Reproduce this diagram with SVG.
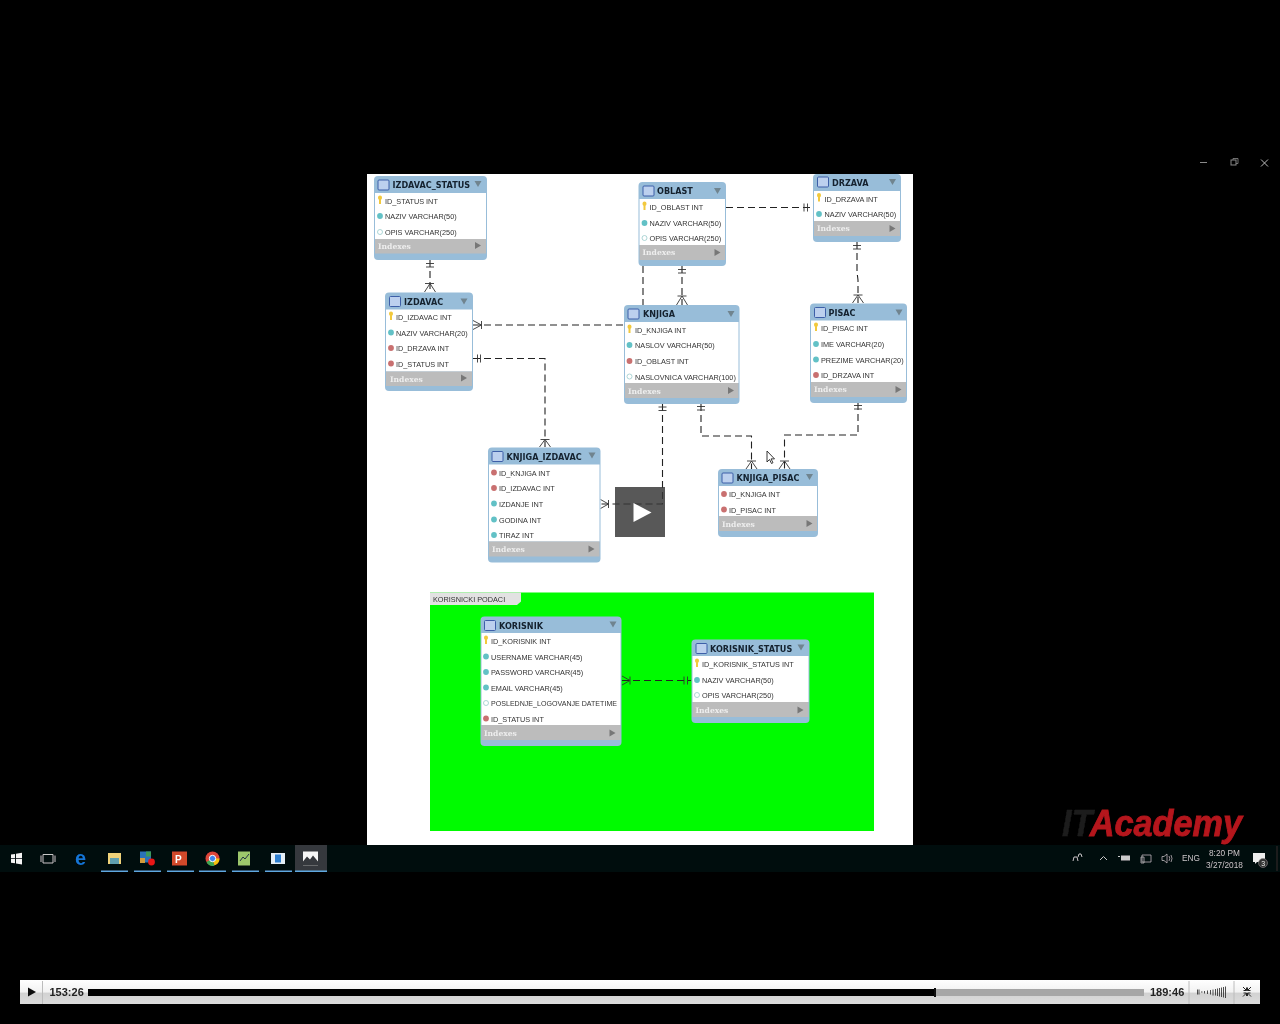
<svg xmlns="http://www.w3.org/2000/svg" width="1280" height="1024" viewBox="0 0 1280 1024">
<style>
text{font-family:"Liberation Sans",Arial,sans-serif}
.hd{fill:#98bdd9}
.bd{fill:#fff}
.ix{fill:#bcbcbc}
.t{font-family:"DejaVu Sans",sans-serif;font-weight:700;font-size:8.1px;fill:#12202e}
.r{font-size:7.300px;fill:#333}
.i{font-family:"DejaVu Serif",serif;font-weight:700;font-size:7.600px;fill:#eee}
.d{fill:none;stroke:#222;stroke-width:1.1;stroke-dasharray:7 4}
.g{fill:none;stroke:#333;stroke-width:.9}
.tr{fill:#c8c8c8;font-size:8.300px}
.ul{fill:#5fa8e0}
.tm{font-weight:700;font-size:11px;fill:#222}
</style>
<defs>
<linearGradient id="bar" x1="0" y1="0" x2="0" y2="1"><stop offset="0" stop-color="#fff"/><stop offset=".5" stop-color="#f2f2f2"/><stop offset=".55" stop-color="#d2d2d2"/><stop offset="1" stop-color="#dcdcdc"/></linearGradient>
<filter id="soft" x="0" y="0" width="1" height="1"><feGaussianBlur stdDeviation=".35"/></filter>
<g id="tbl"><rect x="0" y="0" width="11" height="10" rx="1" fill="#bcd0ee" stroke="#3c5fa8" stroke-width="1"/></g>
<path id="dn" d="M0 0h7l-3.500 6z" fill="#70848f"/>
<path id="rt" d="M0 0l6 3.500-6 3.500z" fill="#777"/>
<path id="key" d="M-2-3.500a2 2 0 0 1 4 0q0 1.700-1 2.300v4.200h-2v-4.200q-1-.6-1-2.300z" fill="#f2c93c"/>
<circle id="teal" r="2.900" fill="#62c1c6"/>
<circle id="red" r="2.900" fill="#c9706f"/>
<circle id="hol" r="2.500" fill="#fff" stroke="#9cc" stroke-width=".8"/>
</defs>
<rect id="screen" width="1280" height="1024" fill="#000"/>
<g filter="url(#soft)">
<rect id="page" x="367" y="174" width="546" height="671" fill="#fff"/>
<g id="layer-korisnicki-podaci">
<rect x="430" y="592.500" width="444" height="238.500" fill="#00fb00"/>
<path d="M430 592.500h91v9l-4 3.500h-87z" fill="#e2e2e2"/>
<text class="r" x="433" y="601.500">KORISNICKI PODACI</text>
</g>
<g id="connectors">
<path class="d" d="M430 260V292M473 325H624M473 358.500H545V447M682 266V305M643 266V305M726 207.500H813M857 242V272L858 280V303M701 404V436H751.500V469M858 403V435H784.500V469M662.500 404V504H600M622 680.500H691"/>
<path class="g" d="M426 263.500h8M426 267h8M425 283.500h9M430 283.500L424.500 292M430 283.500L435.500 292
M481.500 321v8M481.500 325L473 320.500M481.500 325L473 329.500
M477.500 354.500v8M480.500 354.500v8
M540.500 439.500h9M545 439.500L539.500 447M545 439.500L550.500 447
M678 269.500h8M678 273h8M677.500 296h9M682 296L676.500 305M682 296L687.500 305
M804 203.500v8M807.500 203.500v8
M853 245.500h8M853 249h8M853.500 295h9M858 295L852.500 303M858 295L863.500 303
M697 406.500h8M697 410h8M747 461h9M751.500 461L746 469M751.500 461L757 469
M854 405.500h8M854 409h8M780 461h9M784.500 461L779 469M784.500 461L790 469
M658.500 407h8M658.500 410.500h8M608.500 500v8M608.500 504L600.500 499.500M608.500 504L600.500 508.500
M630 676.500v8M630 680.500L622 676M630 680.500L622 685M684 676.500v8M687.500 676.500v8"/>
</g>
<g id="izdavac-status" transform="translate(374 176)">
<rect class="hd" width="113" height="84" rx="4"/><rect class="bd" x="1" y="17" width="111" height="46"/><rect class="ix" x="1" y="63" width="111" height="14.500"/>
<use href="#tbl" x="4" y="4"/><text class="t" x="18.500" y="12">IZDAVAC_STATUS</text><use href="#dn" x="100.500" y="5"/>
<use href="#key" x="6" y="25"/><text class="r" x="11" y="28">ID_STATUS INT</text>
<use href="#teal" x="6" y="40"/><text class="r" x="11" y="43">NAZIV VARCHAR(50)</text>
<use href="#hol" x="6" y="56"/><text class="r" x="11" y="59">OPIS VARCHAR(250)</text>
<text class="i" x="4" y="73">Indexes</text><use href="#rt" x="101" y="66"/>
</g>
<g id="izdavac" transform="translate(385 292.500)">
<rect class="hd" width="88" height="98.500" rx="4"/><rect class="bd" x="1" y="17" width="86" height="62"/><rect class="ix" x="1" y="79" width="86" height="14.500"/>
<use href="#tbl" x="4.500" y="4"/><text class="t" x="19" y="12">IZDAVAC</text><use href="#dn" x="75.500" y="6"/>
<use href="#key" x="6" y="24.500"/><text class="r" x="11" y="27.500">ID_IZDAVAC INT</text>
<use href="#teal" x="6" y="40"/><text class="r" x="11" y="43">NAZIV VARCHAR(20)</text>
<use href="#red" x="6" y="55.500"/><text class="r" x="11" y="58.500">ID_DRZAVA INT</text>
<use href="#red" x="6" y="71"/><text class="r" x="11" y="74">ID_STATUS INT</text>
<text class="i" x="5" y="89">Indexes</text><use href="#rt" x="76" y="82"/>
</g>
<g id="oblast" transform="translate(638.500 182)">
<rect class="hd" width="87.500" height="84" rx="4"/><rect class="bd" x="1" y="17" width="85.500" height="46"/><rect class="ix" x="1" y="63" width="85.500" height="15"/>
<use href="#tbl" x="4.500" y="4"/><text class="t" x="18.500" y="12">OBLAST</text><use href="#dn" x="75.500" y="6"/>
<use href="#key" x="6" y="25"/><text class="r" x="11" y="28">ID_OBLAST INT</text>
<use href="#teal" x="6" y="41"/><text class="r" x="11" y="44">NAZIV VARCHAR(50)</text>
<use href="#hol" x="6" y="56"/><text class="r" x="11" y="59">OPIS VARCHAR(250)</text>
<text class="i" x="4" y="73">Indexes</text><use href="#rt" x="76" y="67"/>
</g>
<g id="drzava" transform="translate(813 174)">
<rect class="hd" width="88" height="68" rx="4"/><rect class="bd" x="1" y="17" width="86" height="30"/><rect class="ix" x="1" y="47" width="86" height="15"/>
<use href="#tbl" x="4.500" y="3"/><text class="t" x="19" y="12">DRZAVA</text><use href="#dn" x="76" y="5"/>
<use href="#key" x="6" y="24.500"/><text class="r" x="11.500" y="27.500">ID_DRZAVA INT</text>
<use href="#teal" x="6" y="40"/><text class="r" x="11.500" y="43">NAZIV VARCHAR(50)</text>
<text class="i" x="4" y="57">Indexes</text><use href="#rt" x="76.500" y="51"/>
</g>
<g id="knjiga" transform="translate(624 305)">
<rect class="hd" width="115.500" height="99" rx="4"/><rect class="bd" x="1" y="17" width="113.500" height="61"/><rect class="ix" x="1" y="78" width="113.500" height="15"/>
<use href="#tbl" x="4" y="4"/><text class="t" x="19" y="12">KNJIGA</text><use href="#dn" x="103.500" y="6"/>
<use href="#key" x="5.500" y="25"/><text class="r" x="11" y="28">ID_KNJIGA INT</text>
<use href="#teal" x="5.500" y="40"/><text class="r" x="11" y="43">NASLOV VARCHAR(50)</text>
<use href="#red" x="5.500" y="56"/><text class="r" x="11" y="59">ID_OBLAST INT</text>
<use href="#hol" x="5.500" y="71.500"/><text class="r" x="11" y="74.500">NASLOVNICA VARCHAR(100)</text>
<text class="i" x="4" y="88.500">Indexes</text><use href="#rt" x="104" y="82"/>
</g>
<g id="pisac" transform="translate(810 303.500)">
<rect class="hd" width="97" height="99.500" rx="4"/><rect class="bd" x="1" y="17" width="95" height="61.500"/><rect class="ix" x="1" y="78.500" width="95" height="15"/>
<use href="#tbl" x="4.500" y="4"/><text class="t" x="18.500" y="12">PISAC</text><use href="#dn" x="85.500" y="6"/>
<use href="#key" x="6" y="24.500"/><text class="r" x="11" y="27.500">ID_PISAC INT</text>
<use href="#teal" x="6" y="40.500"/><text class="r" x="11" y="43.500">IME VARCHAR(20)</text>
<use href="#teal" x="6" y="56"/><text class="r" x="11" y="59">PREZIME VARCHAR(20)</text>
<use href="#red" x="6" y="71.500"/><text class="r" x="11" y="74.500">ID_DRZAVA INT</text>
<text class="i" x="4" y="88.500">Indexes</text><use href="#rt" x="85.500" y="82.500"/>
</g>
<g id="knjiga-izdavac" transform="translate(488 447.500)">
<rect class="hd" width="112.500" height="115" rx="4"/><rect class="bd" x="1" y="17" width="110.500" height="77"/><rect class="ix" x="1" y="94" width="110.500" height="15"/>
<use href="#tbl" x="4" y="4"/><text class="t" x="18.500" y="12">KNJIGA_IZDAVAC</text><use href="#dn" x="100.500" y="5"/>
<use href="#red" x="6" y="25"/><text class="r" x="11" y="28">ID_KNJIGA INT</text>
<use href="#red" x="6" y="40.500"/><text class="r" x="11" y="43.500">ID_IZDAVAC INT</text>
<use href="#teal" x="6" y="56"/><text class="r" x="11" y="59">IZDANJE INT</text>
<use href="#teal" x="6" y="72"/><text class="r" x="11" y="75">GODINA INT</text>
<use href="#teal" x="6" y="87.500"/><text class="r" x="11" y="90.500">TIRAZ INT</text>
<text class="i" x="4" y="104">Indexes</text><use href="#rt" x="100.500" y="98"/>
</g>
<g id="knjiga-pisac" transform="translate(718 469)">
<rect class="hd" width="100" height="68" rx="4"/><rect class="bd" x="1" y="17" width="98" height="30"/><rect class="ix" x="1" y="47" width="98" height="15"/>
<use href="#tbl" x="4" y="4"/><text class="t" x="18.500" y="12">KNJIGA_PISAC</text><use href="#dn" x="88" y="5"/>
<use href="#red" x="6" y="25"/><text class="r" x="11" y="28">ID_KNJIGA INT</text>
<use href="#red" x="6" y="40.500"/><text class="r" x="11" y="43.500">ID_PISAC INT</text>
<text class="i" x="4" y="57.500">Indexes</text><use href="#rt" x="88.500" y="51"/>
</g>
<g id="korisnik" transform="translate(480.500 616.500)">
<rect class="hd" width="141" height="129.500" rx="4"/><rect class="bd" x="1" y="16.500" width="139" height="92"/><rect class="ix" x="1" y="108.500" width="139" height="15"/>
<use href="#tbl" x="4" y="4"/><text class="t" x="18.500" y="12">KORISNIK</text><use href="#dn" x="129" y="5"/>
<use href="#key" x="5.500" y="24.500"/><text class="r" x="10.500" y="27.500">ID_KORISNIK INT</text>
<use href="#teal" x="5.500" y="40"/><text class="r" x="10.500" y="43">USERNAME VARCHAR(45)</text>
<use href="#teal" x="5.500" y="55.500"/><text class="r" x="10.500" y="58.500">PASSWORD VARCHAR(45)</text>
<use href="#teal" x="5.500" y="71"/><text class="r" x="10.500" y="74">EMAIL VARCHAR(45)</text>
<use href="#hol" x="5.500" y="86.500"/><text class="r" x="10.500" y="89.500" textLength="126" lengthAdjust="spacingAndGlyphs">POSLEDNJE_LOGOVANJE DATETIME</text>
<use href="#red" x="5.500" y="102"/><text class="r" x="10.500" y="105">ID_STATUS INT</text>
<text class="i" x="3.500" y="119">Indexes</text><use href="#rt" x="129" y="113"/>
</g>
<g id="korisnik-status" transform="translate(691.500 639.500)">
<rect class="hd" width="118" height="83.500" rx="4"/><rect class="bd" x="1" y="16.500" width="116" height="46"/><rect class="ix" x="1" y="62.500" width="116" height="15"/>
<use href="#tbl" x="4.500" y="4"/><text class="t" x="18.500" y="12">KORISNIK_STATUS</text><use href="#dn" x="106" y="5"/>
<use href="#key" x="5.500" y="24.500"/><text class="r" x="10.500" y="27.500">ID_KORISNIK_STATUS INT</text>
<use href="#teal" x="5.500" y="40.500"/><text class="r" x="10.500" y="43.500">NAZIV VARCHAR(50)</text>
<use href="#hol" x="5.500" y="55.500"/><text class="r" x="10.500" y="58.500">OPIS VARCHAR(250)</text>
<text class="i" x="4" y="73">Indexes</text><use href="#rt" x="106" y="67"/>
</g>
<path id="cursor" d="M767 451v11l2.500-2.500 2 4 1.500-.8-2-3.800h3.500z" fill="#fff" stroke="#222" stroke-width=".9"/>
<g id="play-overlay"><rect x="615" y="487" width="50" height="50" fill="#333" fill-opacity=".82"/><path d="M633.500 503l18 9.500-18 9.500z" fill="#fff"/></g>
<g id="window-controls" fill="none" stroke="#8a8a8a"><path d="M1200 162.500h7"/><rect x="1231" y="160" width="5" height="5"/><path d="M1233 160v-1.500h5v5h-2" stroke-width=".8"/><path d="M1261 159.500l7 7M1268 159.500l-7 7" stroke="#bbb"/></g>
<text id="logo" x="1062" y="836" font-size="36" font-weight="700" font-style="italic" textLength="180" lengthAdjust="spacingAndGlyphs"><tspan fill="#1c1c1c" stroke="#1c1c1c" stroke-width=".6">IT</tspan><tspan fill="#b5141c" stroke="#b5141c" stroke-width=".9">Academy</tspan></text>
<g id="taskbar">
<rect x="0" y="845" width="1280" height="27" fill="#04070c"/>
<rect x="295" y="845" width="32" height="27" fill="#36383c"/>
<path d="M11 854.500l4-.6v4.300h-4zM16 853.700l6-.9v5.400h-6zM11 859h4v4.300l-4-.6zM16 859h6v5.400l-6-.9z" fill="#f4f4f4"/>
<path d="M43 854.500h10v8.500h-10zM41 855.500v6.500M55 855.500v6.500" fill="none" stroke="#c8c8c8"/>
<text x="75" y="865" font-size="20" font-weight="700" fill="#1274d4">e</text>
<rect x="108" y="853" width="13" height="11" fill="#efd27a"/><rect x="110" y="858" width="9" height="6" fill="#5f9fb0"/>
<rect x="140" y="851.500" width="11" height="11" fill="#2c72b8"/><rect x="146" y="851.500" width="5" height="5" fill="#3c9a5a"/><rect x="140" y="858" width="5" height="5" fill="#d29a3a"/><circle cx="151.500" cy="862" r="3.400" fill="#e81818"/>
<rect x="172" y="851.500" width="15" height="14" fill="#d24a2c"/><text x="175" y="862.500" font-size="10" font-weight="700" fill="#fff">P</text>
<circle cx="212.500" cy="858.500" r="7" fill="#dc4438"/><path d="M212.500 858.500l-6 3.500a7 7 0 0 0 8 3.700z" fill="#3da852"/><path d="M212.500 858.500h7a7 7 0 0 1-5 6.700z" fill="#f4c20d"/><circle cx="212.500" cy="858.500" r="3.200" fill="#3f83ea" stroke="#fff"/>
<rect x="238" y="851.500" width="12" height="14" fill="#9cc76c"/><path d="M240 861l3-4 2 2 4-5" fill="none" stroke="#234" stroke-width="1"/>
<rect x="271" y="853" width="14" height="11" fill="#e4eef6"/><rect x="275" y="854.500" width="6" height="8" fill="#2f7fcf"/>
<path d="M303 851.500h15v14h-15z" fill="#f6f6f6"/><path d="M303 865.500v-4l4-5 3 3 3-4 5 6v4z" fill="#36383c"/>
<path class="ul" d="M101 870.500h27v1.500h-27zM134 870.500h27v1.500h-27zM167 870.500h27v1.500h-27zM199 870.500h27v1.500h-27zM232 870.500h27v1.500h-27zM265 870.500h27v1.500h-27zM295 870.500h32v1.500h-32z"/>
<path d="M1073 861l1-4h3l1 4M1078 857l1-3h2l1 3M1100 860l3.500-3.500 3.500 3.500" fill="none" stroke="#c8c8c8"/>
<rect x="1121" y="855.500" width="9" height="5" fill="#ccc"/><rect x="1118" y="856" width="2" height="1" fill="#ccc"/>
<path d="M1142 855h9v7h-9zM1141 857h3v6h-3zM1162 856.500h2l3-2.500v9l-3-2.500h-2zM1169 856q1.500 2.500 0 5M1171 855q2 3.500 0 7" fill="none" stroke="#bbb" stroke-width=".8"/>
<text class="tr" x="1182" y="861">ENG</text>
<text class="tr" x="1209" y="856">8:20 PM</text><text class="tr" x="1206" y="868">3/27/2018</text>
<path d="M1253 853h12v9h-8l-2 2v-2h-2z" fill="#eee"/><circle cx="1263" cy="863" r="4.500" fill="#333" stroke="#888" stroke-width=".6"/><text x="1261.300" y="865.600" font-size="7" fill="#eee">3</text>
<rect x="1276.500" y="846" width="1" height="25" fill="#333"/>
</g>
<g id="player">
<rect x="20" y="980" width="1240" height="24" fill="url(#bar)"/>
<path d="M42.500 981v23M1189 981v23M1234 981v23" stroke="#bcbcbc"/>
<path d="M28 987.500l8 4.500-8 4.500z" fill="#111"/>
<text class="tm" x="49.500" y="996">153:26</text>
<rect x="88" y="989" width="847" height="7" fill="#000"/>
<rect x="935" y="989" width="209" height="7" fill="#a6a6a6"/><rect x="934" y="988" width="2" height="9" fill="#111"/>
<text class="tm" x="1150" y="996">189:46</text>
<path d="M1197.500 989.500v5M1199 989.500v5M1201 992h1.500M1204.500 991v2.500M1207.500 990.500v3.500M1210.500 990v4.500M1213 989.500v6M1215.500 989v6.500M1217.500 988.500v7.500M1219.500 988v8.500M1221.500 987.500v9.500M1223.500 987v10.500M1225.500 986.500v11.500" stroke="#222" stroke-width=".8" fill="none"/>
<path d="M1243 987l3.500 3.500M1246.500 987.500v3h-3M1251 987l-3.500 3.500M1247.500 987.500v3h3M1243 996.500l3.500-3.500M1246.500 996v-3h-3M1251 996.500l-3.500-3.500M1247.500 996v-3h3" fill="none" stroke="#222"/>
</g>
</g>
</svg>
